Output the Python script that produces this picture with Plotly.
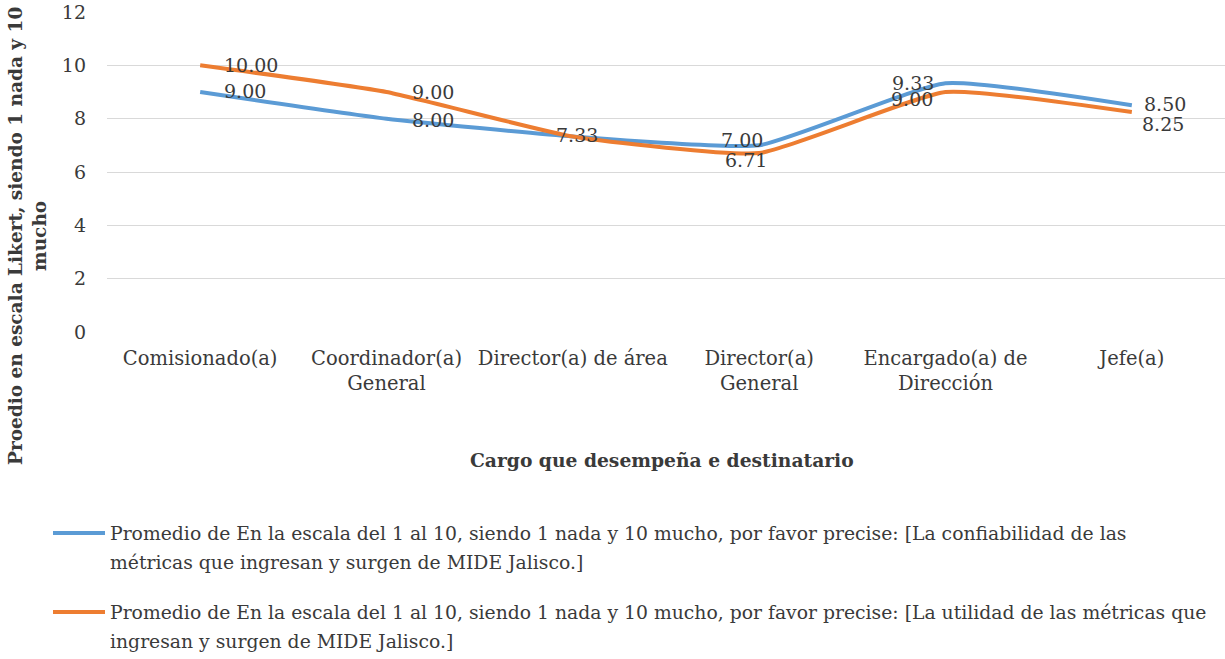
import plotly.graph_objects as go

# Data
categorias = ["Comisionado(a)", "Coordinador(a)<br>General", "Director(a) de área",
              "Director(a)<br>General", "Encargado(a) de<br>Dirección", "Jefe(a)"]
confiabilidad = [9.00, 8.00, 7.33, 7.00, 9.33, 8.50]
utilidad = [10.00, 9.00, 7.33, 6.71, 9.00, 8.25]

leyenda_conf = ["Promedio de En la escala del 1 al 10, siendo 1 nada y 10 mucho, por favor precise: "
                "[La confiabilidad de las",
                "métricas que ingresan y surgen de MIDE Jalisco.]"]
leyenda_util = ["Promedio de En la escala del 1 al 10, siendo 1 nada y 10 mucho, por favor precise: "
                "[La utilidad de las métricas que",
                "ingresan y surgen de MIDE Jalisco.]"]

AZUL = "#5B9BD5"
NARANJA = "#ED7D31"
FONT = "DejaVu Serif"
TXT = "#3A3A3A"

# plot area in pixels (for placing paper-ref items)
L, R, T, B = 107, 1225, 12, 332


def px(x):
    return (x - L) / (R - L)


def py(y):
    return (B - y) / (B - T)


fig = go.Figure()
fig.add_trace(go.Scatter(
    x=categorias, y=confiabilidad, mode="lines", name=" ".join(leyenda_conf),
    line=dict(color=AZUL, width=4, shape="spline", smoothing=0.45),
))
fig.add_trace(go.Scatter(
    x=categorias, y=utilidad, mode="lines", name=" ".join(leyenda_util),
    line=dict(color=NARANJA, width=4, shape="spline", smoothing=0.45),
))

# data labels, nudged like the hand-placed Excel labels
off_conf = [(22, 1), (23, -1), (-19, 2), (-40, 5), (-56, 0), (10, 1)]
off_util = [(22, 0), (23, 0), None, (-36, -7), (-57, -7), (8, -12)]
for serie, offs in ((confiabilidad, off_conf), (utilidad, off_util)):
    for c, v, o in zip(categorias, serie, offs):
        if o is None:
            continue
        fig.add_annotation(
            x=c, y=v, text=f"{v:.2f}", showarrow=False,
            xanchor="left", yanchor="middle", xshift=o[0], yshift=o[1],
            font=dict(family=FONT, size=19, color=TXT),
        )

# axis titles
fig.add_annotation(
    x=px(27), y=py(236), xref="paper", yref="paper", textangle=-90,
    text="<b>Proedio en escala Likert, siendo 1 nada y 10<br>mucho</b>",
    showarrow=False, font=dict(family=FONT, size=18.5, color=TXT),
    xanchor="center", yanchor="middle",
)
fig.add_annotation(
    x=px(662), y=py(460), xref="paper", yref="paper",
    text="<b>Cargo que desempeña e destinatario</b>",
    showarrow=False, font=dict(family=FONT, size=18.7, color=TXT),
    xanchor="center", yanchor="middle",
)

# legend drawn by hand (long line samples, wide line spacing)
for color, lineas, y0 in ((AZUL, leyenda_conf, 533), (NARANJA, leyenda_util, 612)):
    fig.add_shape(type="line", xref="paper", yref="paper",
                  x0=px(53), x1=px(105), y0=py(y0), y1=py(y0),
                  line=dict(color=color, width=4))
    for k, linea in enumerate(lineas):
        fig.add_annotation(
            x=px(108), y=py(y0 + 29 * k), xref="paper", yref="paper",
            text=linea, showarrow=False, xanchor="left", yanchor="middle",
            font=dict(family=FONT, size=18.8, color=TXT),
        )

fig.update_layout(
    width=1225, height=659,
    margin=dict(l=L, r=1225 - R, t=T, b=659 - B, autoexpand=False),
    plot_bgcolor="white", paper_bgcolor="white",
    font=dict(family=FONT, size=18, color=TXT),
    showlegend=False,
    xaxis=dict(range=[-0.5, 5.5], showgrid=False, showline=False, ticks="",
               ticklabelstandoff=12, automargin=False,
               tickfont=dict(size=19.5, color=TXT)),
    yaxis=dict(range=[0, 12], dtick=2, gridcolor="#D9D9D9", gridwidth=1.3,
               zeroline=False, showline=False, ticks="", ticklabelstandoff=20,
               automargin=False, tickfont=dict(size=19, color=TXT)),
)

# drop the page's default body margin so the figure sits at the window's corner
fig.write_html("out.html", config={"displayModeBar": False},
               post_script="document.body.style.margin='0';")
